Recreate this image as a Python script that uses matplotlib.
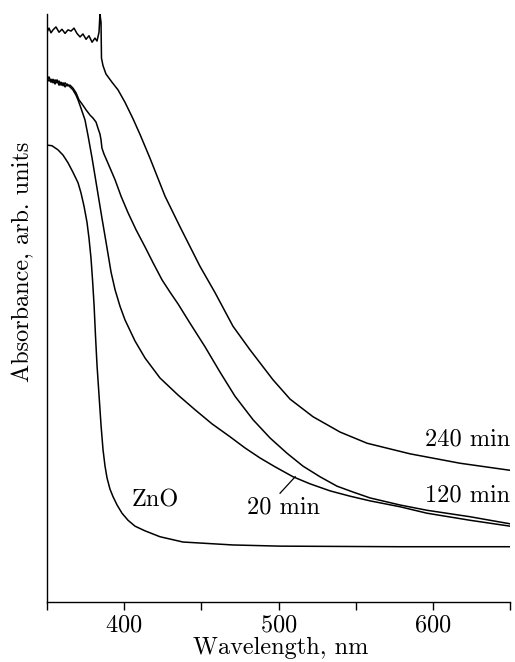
import numpy as np
import matplotlib
matplotlib.use("Agg")
import matplotlib.pyplot as plt
from matplotlib.ticker import MultipleLocator, NullFormatter

plt.rcParams['font.family'] = ['cmr10', 'DejaVu Serif']
plt.rcParams['axes.formatter.use_mathtext'] = True

# spectra (wavelength in nm, absorbance in arb. units)
wl_240 = [350.0, 351.3, 352.6, 353.9, 355.8, 357.8, 359.7, 361.7, 363.6, 365.6,
          367.5, 369.4, 371.4, 373.3, 375.3, 377.2, 379.2, 381.1, 382.4, 383.7,
          384.3, 385.0, 385.3, 386.3, 388.2, 392.1, 396.0, 400.5, 405.7, 410.3,
          416.7, 426.5, 436.2, 449.1, 458.9, 470.5, 481.5, 496.4, 507.5, 522.4,
          539.9, 557.4, 585.2, 617.6, 650.0]
ab_240 = [0.969, 0.976, 0.968, 0.973, 0.978, 0.969, 0.974, 0.967, 0.973, 0.971,
          0.976, 0.967, 0.961, 0.966, 0.957, 0.963, 0.952, 0.959, 0.954, 0.969,
          1.000, 0.986, 0.925, 0.912, 0.898, 0.884, 0.871, 0.850, 0.822, 0.795,
          0.755, 0.690, 0.638, 0.571, 0.526, 0.469, 0.429, 0.378, 0.345, 0.315,
          0.289, 0.270, 0.252, 0.236, 0.224]

wl_120 = [350.0, 351.3, 352.6, 353.9, 355.2, 356.5, 357.8, 359.1, 360.4, 361.7,
          363.0, 364.9, 366.8, 368.8, 370.7, 372.7, 375.3, 377.9, 379.8, 381.8,
          383.0, 384.3, 385.0, 385.6, 386.9, 390.2, 394.1, 398.0, 402.5, 407.7,
          413.5, 418.7, 424.5, 429.7, 434.9, 442.7, 452.4, 462.1, 471.8, 483.5,
          494.5, 505.5, 515.9, 526.9, 537.9, 548.3, 559.3, 578.7, 596.2, 624.1, 650.0]
ab_120 = [0.888, 0.893, 0.884, 0.889, 0.881, 0.888, 0.879, 0.884, 0.878, 0.883,
          0.878, 0.879, 0.874, 0.866, 0.854, 0.847, 0.837, 0.828, 0.823, 0.816,
          0.806, 0.796, 0.786, 0.772, 0.762, 0.742, 0.718, 0.690, 0.662, 0.633,
          0.604, 0.577, 0.548, 0.527, 0.507, 0.474, 0.434, 0.391, 0.350, 0.310,
          0.279, 0.253, 0.231, 0.213, 0.197, 0.187, 0.177, 0.165, 0.156, 0.145, 0.133]

wl_20 = [350.0, 351.3, 352.6, 353.9, 355.2, 356.5, 357.8, 359.1, 360.4, 361.7,
         363.0, 364.9, 366.8, 368.8, 370.1, 372.0, 374.6, 376.6, 379.2, 382.4,
         385.6, 388.9, 391.5, 394.1, 397.3, 400.5, 407.0, 413.5, 423.2, 434.9,
         445.9, 456.9, 468.6, 478.3, 488.0, 497.7, 509.4, 520.4, 533.4, 546.3,
         559.3, 578.7, 596.2, 624.1, 650.0]
ab_20 = [0.891, 0.886, 0.889, 0.883, 0.888, 0.883, 0.886, 0.879, 0.883, 0.876,
         0.881, 0.876, 0.871, 0.862, 0.854, 0.840, 0.820, 0.793, 0.755, 0.704,
         0.653, 0.602, 0.561, 0.531, 0.503, 0.480, 0.444, 0.415, 0.381, 0.352,
         0.327, 0.303, 0.281, 0.262, 0.245, 0.230, 0.213, 0.201, 0.189, 0.180,
         0.172, 0.162, 0.151, 0.139, 0.129]

wl_zno = [350.0, 353.2, 357.1, 360.4, 363.6, 366.8, 370.1, 372.0, 374.0, 375.9,
          377.2, 378.5, 379.5, 380.5, 381.4, 382.4, 383.7, 385.0, 386.3, 387.6,
          388.9, 390.8, 392.8, 395.4, 398.6, 402.5, 407.0, 413.5, 423.2, 438.1,
          470.5, 501.0, 578.7, 650.0]
ab_zno = [0.777, 0.776, 0.769, 0.760, 0.747, 0.731, 0.713, 0.696, 0.673, 0.646,
          0.619, 0.585, 0.548, 0.505, 0.454, 0.403, 0.352, 0.301, 0.259, 0.231,
          0.211, 0.192, 0.179, 0.165, 0.151, 0.139, 0.129, 0.121, 0.111, 0.102,
          0.097, 0.095, 0.094, 0.094]

fig = plt.figure(figsize=(5.15, 6.62), dpi=100)
ax = fig.add_axes([47/515, 60/662, 463/515, 588/662])

for wl, ab in [(wl_240, ab_240), (wl_120, ab_120), (wl_20, ab_20), (wl_zno, ab_zno)]:
    ax.plot(wl, ab, color='black', lw=1.1)

ax.set_xlim(350, 650)
ax.set_ylim(0, 1.0)

ax.spines['top'].set_visible(False)
ax.spines['right'].set_visible(False)
ax.spines['left'].set_linewidth(1.0)
ax.spines['bottom'].set_linewidth(1.0)

fs = 17.5
ax.xaxis.set_major_locator(MultipleLocator(100))
ax.xaxis.set_minor_locator(MultipleLocator(50))
ax.xaxis.set_minor_formatter(NullFormatter())
ax.tick_params(axis='x', which='both', direction='out', length=6, width=1.0,
               labelsize=fs, pad=3)
ax.set_yticks([])

ax.set_xlabel('Wavelength, nm', fontsize=fs)
ax.xaxis.set_label_coords(0.505, -0.060)
ax.set_ylabel('Absorbance, arb. units', fontsize=fs)
ax.yaxis.set_label_coords(-0.028, 0.578)

# curve labels
ax.text(650, 0.277, '240 min', fontsize=fs, ha='right', va='center')
ax.text(650, 0.182, '120 min', fontsize=fs, ha='right', va='center')
ax.text(420, 0.173, 'ZnO', fontsize=fs, ha='center', va='center')
ax.text(503, 0.160, '20 min', fontsize=fs, ha='center', va='center')
ax.plot([501.0, 510.8], [0.185, 0.213], color='black', lw=0.9)

fig.savefig('out.png', dpi=100)
